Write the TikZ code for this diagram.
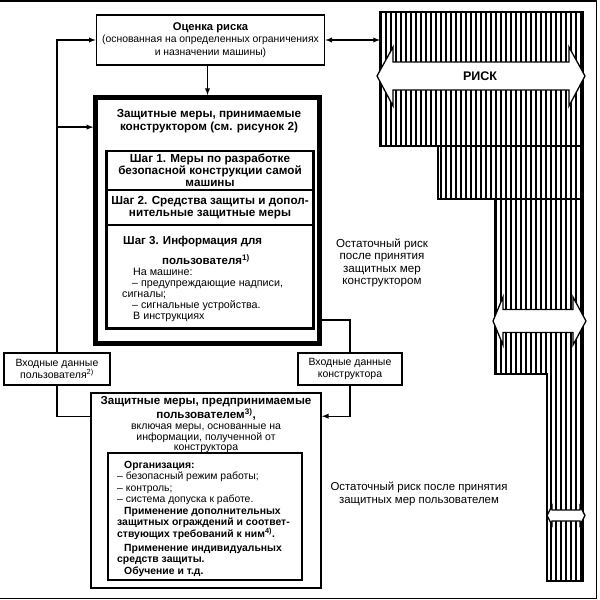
\documentclass[tikz,border=0pt]{standalone}
\usepackage{fontspec}
\setmainfont{Liberation Sans}
\usetikzlibrary{calc}

\begin{document}
\begin{tikzpicture}[x=1pt,y=-1pt,>=latex,
font=\fontsize{10.4}{12.5}\selectfont
]
    \tikzstyle{plain box}=[draw,line width=1.6pt,inner sep=0,align=center]
    \tikzstyle{thick box}=[draw,line width=4.8pt,inner sep=0]
    \tikzstyle{step box}=[draw,line width=2.8pt,inner sep=0,align=center,font=\bfseries\fontsize{11.7}{12}\selectfont]
    \tikzstyle{wire}=[line width=1.3pt]
    \tikzstyle{stripe}=[line width=1.05pt]
    \tikzstyle{risk arrow}=[draw,fill=white,line width=1.3pt,line join=miter]

    \useasboundingbox (0,0) rectangle (600,600);

    % risk assessment
    \node[plain box,minimum width=228,minimum height=50] (riskassess) at (210.5,40)
        {\textbf{\fontsize{11.2}{12.5}\selectfont Оценка риска}\\
         (основанная на определенных ограничениях\\
         и назначении машины)};

    % measures of the designer
    \node[thick box,minimum width=223.5,minimum height=246] (designmeas) at (207.5,220.5) {};
    \node[align=center,font=\bfseries\fontsize{11.7}{12.5}\selectfont] (dtitle) at (209,121)
        {Защитные меры, принимаемые\\конструктором (см. рисунок 2)};
    \node[step box,minimum width=207,minimum height=39] (step1) at (210,170.5)
        {Шаг 1. Меры по разработке\\безопасной конструкции самой\\машины};
    \node[step box,minimum width=207,minimum height=35] (step2) at (210,207.5)
        {Шаг 2. Средства защиты и допол-\\нительные защитные меры};
    \node[step box,minimum width=207,minimum height=103.5] (step3) at (210,276.75) {};
    \node[anchor=north west,inner sep=0,align=left,font=\fontsize{10.7}{11}\selectfont] (step3text) at (122,235.5)
        {\hspace*{1pt}\textbf{\fontsize{11.5}{12}\selectfont Шаг 3. Информация для}\\[7pt]
         \hspace*{40pt}\textbf{\fontsize{11.5}{12}\selectfont пользователя\textsuperscript{1)}}\\
         \hspace*{11pt}На машине:\\
         \hspace*{10pt}-- предупреждающие надписи,\\
         сигналы;\\
         \hspace*{10pt}-- сигнальные устройства.\\
         \hspace*{11pt}В инструкциях};

    % input data
    \node[plain box,minimum width=106,minimum height=32,font=\fontsize{10.5}{12.5}\selectfont] (userin) at (57,369)
        {Входные данные\\пользователя\textsuperscript{2)}};
    \node[plain box,minimum width=104,minimum height=32,font=\fontsize{10.5}{12.5}\selectfont] (designin) at (350,369)
        {Входные данные\\конструктора};

    % measures of the user
    \node[plain box,minimum width=230,minimum height=195] (usermeas) at (206,490.5) {};
    \node[align=center,inner sep=0,font=\fontsize{10.5}{10.8}\selectfont] (utitle) at (206,425)
        {\textbf{\fontsize{11.6}{11}\selectfont Защитные меры, предпринимаемые}\\
         \textbf{\fontsize{11.6}{11}\selectfont пользователем\textsuperscript{3)},}\\
         включая меры, основанные на\\
         информации, полученной от\\
         конструктора};
    \node[plain box,minimum width=194,minimum height=127] (orgbox) at (205,516.5) {};
    \node[anchor=north west,inner sep=0,align=left,font=\fontsize{10.4}{11.3}\selectfont] (orgtext) at (117,461)
        {\hspace*{7pt}\textbf{Организация:}\\
         -- безопасный режим работы;\\
         -- контроль;\\
         -- система допуска к работе.\\[1pt]
         \hspace*{7pt}\textbf{Применение дополнительных}\\
         \textbf{защитных ограждений и соответ-}\\
         \textbf{ствующих требований к ним\textsuperscript{4)}.}\\[3pt]
         \hspace*{7pt}\textbf{Применение индивидуальных}\\
         \textbf{средств защиты.}\\
         \hspace*{7pt}\textbf{Обучение и т.д.}};

    % residual risk
    \node[align=center,font=\fontsize{11.6}{12.5}\selectfont] (resid1) at (382,263)
        {Остаточный риск\\после принятия\\защитных мер\\конструктором};
    \node[align=center,font=\fontsize{11.4}{12.5}\selectfont] (resid2) at (419,494)
        {Остаточный риск после принятия\\защитных мер пользователем};

    % hatched risk area
    \begin{scope}
        \clip (380,12) -- (583,12) -- (583,581) -- (547,581) -- (547,374) -- (495,374)
            -- (495,199) -- (438,199) -- (438,146) -- (380,146) -- cycle;
        \foreach \x in {381,386,...,581}
            \draw[stripe] (\x,12) -- (\x,581);
    \end{scope}
    \draw[line width=1.2pt] (380,12) rectangle (583,146);
    \draw[line width=1.2pt] (438,146) rectangle (583,199);
    \draw[line width=1.2pt] (495,199) -- (583,199) -- (583,581) -- (547,581) -- (547,374) -- (495,374) -- cycle;
    \coordinate (riskedge) at (380,40);

    % risk arrows
    \draw[risk arrow] (377,76) -- (393,47) -- (393,62) -- (569,62) -- (569,47) -- (585,76)
        -- (569,106) -- (569,90) -- (393,90) -- (393,106) -- cycle;
    \node[font=\bfseries\fontsize{12.5}{14}\selectfont] (risk) at (480,76.5) {РИСК};
    \draw[risk arrow] (493,321) -- (503,297) -- (503,309.5) -- (573,309.5) -- (573,297) -- (586,321)
        -- (573,345) -- (573,332.5) -- (503,332.5) -- (503,345) -- cycle;
    \draw[risk arrow] (547,515.5) -- (552,506) -- (552,510) -- (580,510) -- (580,506) -- (585,515.5)
        -- (580,525) -- (580,521) -- (552,521) -- (552,525) -- cycle;

    % connectors
    \draw[wire,->] (riskassess.south -| designmeas.north) -- (designmeas.north);
    \draw[wire,<->] (riskassess.east) -- (riskedge);
    \draw[wire,->] (userin.north) |- (riskassess.west);
    \draw[wire,->] (userin.north) |- ([yshift=-32pt]designmeas.north west);
    \draw[wire] (userin.south) |- ([yshift=-24pt]usermeas.north west);
    \draw[wire] ([yshift=26pt]designmeas.south east) -| (designin.north);
    \draw[wire,->] (designin.south) |- ([yshift=-24pt]usermeas.north east);

    % frame
    \draw[line width=1.5pt] (0,1) -- (596.5,1) -- (596.5,598.5) -- (0,598.5);
\end{tikzpicture}
\end{document}
